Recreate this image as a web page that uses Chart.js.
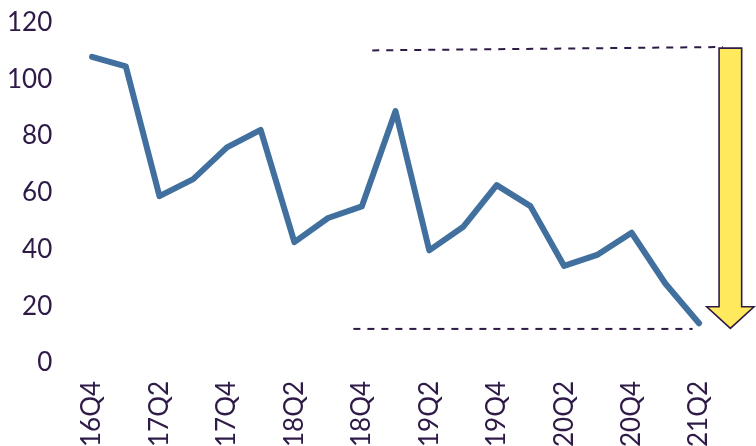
<!DOCTYPE html>
<html>
<head>
<meta charset="utf-8">
<script src="https://cdn.jsdelivr.net/npm/chart.js@4/dist/chart.umd.min.js"></script>
<style>
  html, body { margin: 0; padding: 0; background: #ffffff; overflow: hidden; }
  #wrap { width: 756px; height: 446px; position: relative; overflow: hidden; }
</style>
</head>
<body>
<div id="wrap"><canvas id="c" width="756" height="465"></canvas></div>
<script>
// ---- data ----
const quarters = ["16Q4","17Q1","17Q2","17Q3","17Q4","18Q1","18Q2","18Q3","18Q4","19Q1",
                  "19Q2","19Q3","19Q4","20Q1","20Q2","20Q3","20Q4","21Q1","21Q2"];
const values = [107.9, 104.6, 58.8, 64.8, 76.0, 82.2, 42.6, 51.1, 55.2, 88.8,
                39.7, 47.9, 62.7, 55.3, 34.2, 38.2, 45.9, 28.0, 14.0];
const yTicks = [0, 20, 40, 60, 80, 100, 120];
// annotation guides (x in quarter index units, y in value units)
const topGuideX = [8.31, 18.71];
const topGuideY = [110.2, 111.4];
const bottomGuideX = [7.75, 17.81];
const bottomGuideY = [12.0, 12.0];
const arrowX = 18.93;
const arrowFromTo = [111.0, 12.2];
const arrowHeadBase = 19.8;

const INK = '#2e1a47';
const LINE = '#41709f';

const arrowPlugin = {
  id: 'arrowPlugin',
  afterDatasetsDraw(chart) {
    const {ctx, scales: {x, y}} = chart;
    const cx = x.getPixelForValue(arrowX);
    const yTop = y.getPixelForValue(arrowFromTo[0]);
    const yTip = y.getPixelForValue(arrowFromTo[1]);
    const yBase = y.getPixelForValue(arrowHeadBase);
    const sw = 11.3, hw = 23.6;
    ctx.save();
    ctx.beginPath();
    ctx.moveTo(cx - sw, yTop);
    ctx.lineTo(cx + sw, yTop);
    ctx.lineTo(cx + sw, yBase);
    ctx.lineTo(cx + hw, yBase);
    ctx.lineTo(cx, yTip);
    ctx.lineTo(cx - hw, yBase);
    ctx.lineTo(cx - sw, yBase);
    ctx.closePath();
    ctx.fillStyle = '#ffe95c';
    ctx.fill();
    ctx.lineWidth = 1.6;
    ctx.strokeStyle = INK;
    ctx.lineJoin = 'miter';
    ctx.stroke();
    ctx.restore();
  }
};

const mainData = values.map((v, i) => ({x: i, y: v}));
const topGuide = topGuideX.map((xv, i) => ({x: xv, y: topGuideY[i]}));
const bottomGuide = bottomGuideX.map((xv, i) => ({x: xv, y: bottomGuideY[i]}));
const labelTicks = quarters.map((q, i) => i).filter(i => i % 2 === 0);

new Chart(document.getElementById('c'), {
  type: 'line',
  data: {
    datasets: [
      { data: topGuide, borderColor: INK, borderWidth: 2, borderDash: [7, 7], pointRadius: 0, fill: false, clip: false },
      { data: bottomGuide, borderColor: INK, borderWidth: 2, borderDash: [7, 7], pointRadius: 0, fill: false, clip: false },
      { data: mainData, borderColor: LINE, borderWidth: 6, pointRadius: 0, fill: false, tension: 0,
        borderCapStyle: 'round', borderJoinStyle: 'round', clip: false }
    ]
  },
  options: {
    responsive: false,
    animation: false,
    devicePixelRatio: 1,
    layout: { padding: { top: 4, right: 0, left: 0, bottom: 0 } },
    plugins: { legend: { display: false }, tooltip: { enabled: false } },
    scales: {
      x: {
        type: 'linear',
        min: -0.973,
        max: 19.69,
        grid: { display: false, drawTicks: false },
        border: { display: false },
        afterBuildTicks(scale) { scale.ticks = labelTicks.map(v => ({value: v})); },
        ticks: {
          autoSkip: false,
          minRotation: 90,
          maxRotation: 90,
          padding: 18,
          color: INK,
          font: { family: 'Lato', size: 26 },
          callback: (v) => quarters[v] ?? ''
        }
      },
      y: {
        min: 0,
        max: 120,
        afterBuildTicks(scale) { scale.ticks = yTicks.map(v => ({value: v})); },
        grid: { display: false, drawTicks: false },
        border: { display: false },
        ticks: {
          padding: 7,
          color: INK,
          font: { family: 'Lato', size: 26 }
        }
      }
    }
  },
  plugins: [arrowPlugin]
});
</script>
</body>
</html>
